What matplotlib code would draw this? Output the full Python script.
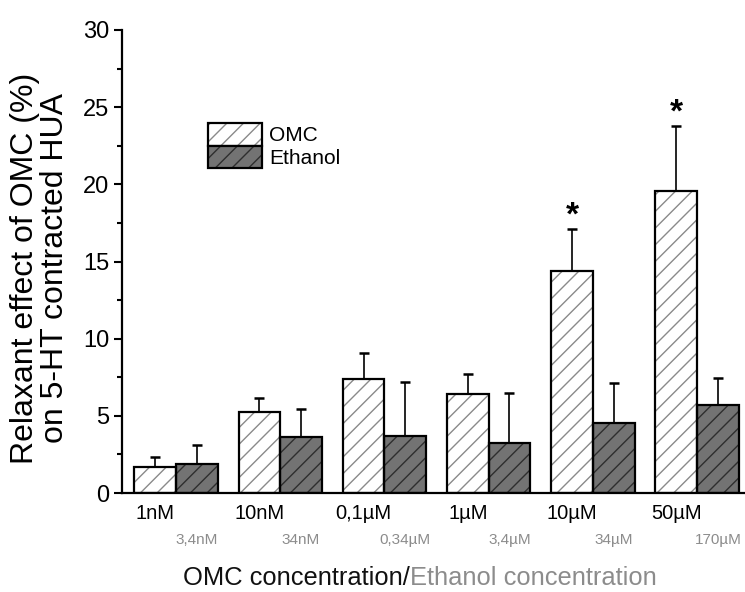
import numpy as np
import matplotlib
matplotlib.use("Agg")
import matplotlib.pyplot as plt
from matplotlib.patches import Rectangle
from matplotlib.legend_handler import HandlerTuple
from matplotlib.ticker import MultipleLocator

plt.rcParams['font.family'] = ['Liberation Sans', 'DejaVu Sans']
plt.rcParams['hatch.linewidth'] = 1.0

# ---- data ----
omc_labels = ["1nM", "10nM", "0,1\u00b5M", "1\u00b5M", "10\u00b5M", "50\u00b5M"]
eth_labels = ["3,4nM", "34nM", "0,34\u00b5M", "3,4\u00b5M", "34\u00b5M", "170\u00b5M"]
omc_mean = [1.70, 5.27, 7.39, 6.42, 14.39, 19.55]
omc_err = [0.61, 0.89, 1.66, 1.29, 2.74, 4.23]
eth_mean = [1.88, 3.63, 3.69, 3.22, 4.52, 5.68]
eth_err = [1.23, 1.79, 3.48, 3.28, 2.63, 1.79]
significant = [False, False, False, False, True, True]

W, H = 745, 592
fig = plt.figure(figsize=(W / 100, H / 100), dpi=100)
ax = fig.add_axes([122 / W, 99 / H, (744 - 122) / W, (493 - 30) / H])

x = np.arange(len(omc_labels))
bw = 0.4
xo = x - bw / 2
xe = x + bw / 2

omc_face, omc_hatch = 'white', '#8a8a8a'
eth_face, eth_hatch = '#737373', '#2e2e2e'

# hatch fills
ax.bar(xo, omc_mean, width=bw, color=omc_face, edgecolor=omc_hatch, hatch='//', linewidth=0, zorder=2)
ax.bar(xe, eth_mean, width=bw, color=eth_face, edgecolor=eth_hatch, hatch='//', linewidth=0, zorder=2)
# outlines
ax.bar(xo, omc_mean, width=bw, fill=False, edgecolor='black', linewidth=1.6, zorder=3)
ax.bar(xe, eth_mean, width=bw, fill=False, edgecolor='black', linewidth=1.6, zorder=3)

zeros = np.zeros(len(x))
ax.errorbar(xo, omc_mean, yerr=[zeros, omc_err], fmt='none', ecolor='black',
            elinewidth=1.2, capsize=3.3, capthick=1.8, zorder=1)
ax.errorbar(xe, eth_mean, yerr=[zeros, eth_err], fmt='none', ecolor='black',
            elinewidth=1.2, capsize=3.3, capthick=1.8, zorder=1)

for xi, m, e, s in zip(xo, omc_mean, omc_err, significant):
    if s:
        ax.annotate('*', xy=(xi, m + e), xytext=(0, -2), textcoords='offset points',
                    ha='center', va='bottom', fontsize=24, fontweight='bold')

ax.set_xlim(-0.518, 5.45)
ax.set_ylim(0, 30)
ax.set_yticks(np.arange(0, 31, 5))
ax.yaxis.set_minor_locator(MultipleLocator(2.5))
ax.set_xticks([])
ax.tick_params(axis='y', which='major', direction='out', length=6, width=1.5,
               labelsize=17, pad=3)
ax.tick_params(axis='y', which='minor', direction='out', length=3.5, width=1.5)
for sp in ['top', 'right']:
    ax.spines[sp].set_visible(False)
for sp in ['left', 'bottom']:
    ax.spines[sp].set_linewidth(1.6)

# category labels
for xi, lab in zip(xo, omc_labels):
    ax.annotate(lab, xy=(xi, 0), xycoords=('data', 'axes fraction'),
                xytext=(0, -15), textcoords='offset points',
                ha='center', va='center', fontsize=14.5, color='black')
for xi, lab in zip(xe, eth_labels):
    ax.annotate(lab, xy=(xi, 0), xycoords=('data', 'axes fraction'),
                xytext=(0, -34), textcoords='offset points',
                ha='center', va='center', fontsize=11, color='#8c8c8c')

# legend
h_omc = (Rectangle((0, 0), 1, 1, facecolor=omc_face, edgecolor=omc_hatch, hatch='//', linewidth=0),
         Rectangle((0, 0), 1, 1, fill=False, edgecolor='black', linewidth=1.6))
h_eth = (Rectangle((0, 0), 1, 1, facecolor=eth_face, edgecolor=eth_hatch, hatch='//', linewidth=0),
         Rectangle((0, 0), 1, 1, fill=False, edgecolor='black', linewidth=1.6))
ax.legend([h_omc, h_eth], ['OMC', 'Ethanol'],
          handler_map={tuple: HandlerTuple(ndivide=1, pad=0)},
          loc='upper left', bbox_to_anchor=(208 / W, 1 - 123 / H), bbox_transform=fig.transFigure,
          frameon=False, fontsize=15, handlelength=2.6, handleheight=1.3,
          labelspacing=0.0, handletextpad=0.35, borderpad=0, borderaxespad=0)

# y label
fig.text(40 / W, 1 - 268 / H, "Relaxant effect of OMC (%)\non 5-HT contracted HUA",
         rotation=90, ha='center', va='center', fontsize=23, linespacing=1.0)

# x label in two colours
t1 = fig.text(183 / W, 1 - 578 / H, "OMC concentration/", ha='left', va='center',
              fontsize=18.4, color='#111111')
fig.canvas.draw()
bb = t1.get_window_extent(renderer=fig.canvas.get_renderer())
fig.text(bb.x1 / W, 1 - 578 / H, "Ethanol concentration", ha='left', va='center',
         fontsize=18.4, color='#8c8c8c')

fig.savefig('out.png', dpi=100)
